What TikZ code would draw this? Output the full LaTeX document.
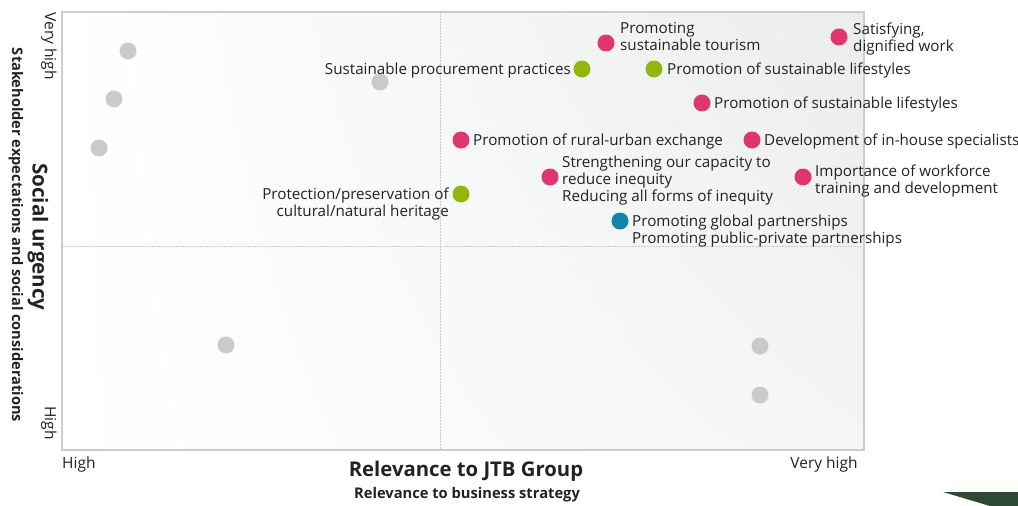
\documentclass[tikz,border=0pt]{standalone}
\usepackage{fontspec}
\setmainfont{Open Sans}
\usetikzlibrary{shadings}
\definecolor{cpink}{HTML}{E0356F}
\definecolor{cgreen}{HTML}{93B60A}
\definecolor{cteal}{HTML}{0E86A6}
\definecolor{cgray}{HTML}{C8CACB}
\definecolor{cframe}{HTML}{C9CDCD}
\definecolor{ctext}{HTML}{222222}
\definecolor{cdark}{HTML}{2C4A33}
\definecolor{cshadeA}{HTML}{EBEDED}
\definecolor{cshadeB}{HTML}{F4F5F5}
\begin{document}
\begin{tikzpicture}[x=1pt,y=-1pt,
  dot/.style={circle, inner sep=0pt, minimum size=17pt, fill=#1},
  lbl/.style={font=\fontsize{15.2}{17}\selectfont, inner sep=0pt, text=ctext, yshift=-1.5pt},
  ax/.style={font=\fontsize{15.5}{17}\selectfont, inner sep=0pt, text=ctext},
  guide/.style={cgray, line width=0.8pt, dash pattern=on 1.5pt off 1.5pt}]
\useasboundingbox (0,0) rectangle (1018,506);
% plot area
\shade[upper left=white, lower left=white, upper right=cshadeA, lower right=cshadeB] (62,12) rectangle (864,450);
\draw[guide] (440,12) -- (440,450);
\draw[guide] (62,246) -- (864,246);
\draw[cframe, line width=1.8pt] (62,12) rectangle (864,450);
% axis texts
\node[ax, rotate=-90] (yvh) at (49,46) {Very high};
\node[ax, rotate=-90] (yh) at (49,423) {High};
\node[inner sep=0pt, rotate=-90, text=ctext, font=\bfseries\fontsize{20.6}{22}\selectfont] (ytitle) at (38,237) {Social urgency};
\node[inner sep=0pt, rotate=-90, text=ctext, font=\bfseries\fontsize{14.6}{16}\selectfont] (ysub) at (16,235) {Stakeholder expectations and social considerations};
\node[ax, anchor=west] (xh) at (62,464) {High};
\node[ax] (xvh) at (824,464) {Very high};
\node[inner sep=0pt, text=ctext, font=\bfseries\fontsize{20.3}{22}\selectfont] (xtitle) at (466,471) {Relevance to JTB Group};
\node[inner sep=0pt, text=ctext, font=\bfseries\fontsize{14.7}{16}\selectfont] (xsub) at (467,495) {Relevance to business strategy};
% gray dots
\node[dot=cgray] (g1) at (128,51) {};
\node[dot=cgray] (g2) at (114,99) {};
\node[dot=cgray] (g3) at (99,148) {};
\node[dot=cgray] (g4) at (380,82) {};
\node[dot=cgray] (g5) at (226,345) {};
\node[dot=cgray] (g6) at (760,346) {};
\node[dot=cgray] (g7) at (760,395) {};
% coloured dots
\node[dot=cpink] (p1) at (606,43) {};
\node[lbl, anchor=west, align=left] (l1) at (620,35) {Promoting\\sustainable tourism};
\node[dot=cpink] (p2) at (839,37) {};
\node[lbl, anchor=west, align=left] (l2) at (853,37.5) {Satisfying,\\dignified work};
\node[dot=cgreen] (gr1) at (582,69) {};
\node[lbl, anchor=east] (l3) at (571,69) {Sustainable procurement practices};
\node[dot=cgreen] (gr2) at (654,69) {};
\node[lbl, anchor=west] (l4) at (667,69) {Promotion of sustainable lifestyles};
\node[dot=cpink] (p3) at (702,103) {};
\node[lbl, anchor=west] (l5) at (714,103) {Promotion of sustainable lifestyles};
\node[dot=cpink] (p4) at (461,140) {};
\node[lbl, anchor=west] (l6) at (473,140) {Promotion of rural-urban exchange};
\node[dot=cpink] (p5) at (752,140) {};
\node[lbl, anchor=west] (l7) at (764,140) {Development of in-house specialists};
\node[dot=cpink] (p6) at (550,177) {};
\node[lbl, anchor=west, align=left] (l8) at (562,179) {Strengthening our capacity to\\reduce inequity\\Reducing all forms of inequity};
\node[dot=cgreen] (gr3) at (461,194) {};
\node[lbl, anchor=east, align=right] (l9) at (449,202.5) {Protection/preservation of\\cultural/natural heritage};
\node[dot=cpink] (p7) at (803,177) {};
\node[lbl, anchor=west, align=left] (l10) at (815,180) {Importance of workforce\\training and development};
\node[dot=cteal] (t1) at (620,221) {};
\node[lbl, anchor=west, align=left] (l11) at (632,229.5) {Promoting global partnerships\\Promoting public-private partnerships};
% corner mark
\fill[cdark] (943,492) -- (1018,492) -- (1018,506) -- (990,506) -- cycle;
\end{tikzpicture}
\end{document}
